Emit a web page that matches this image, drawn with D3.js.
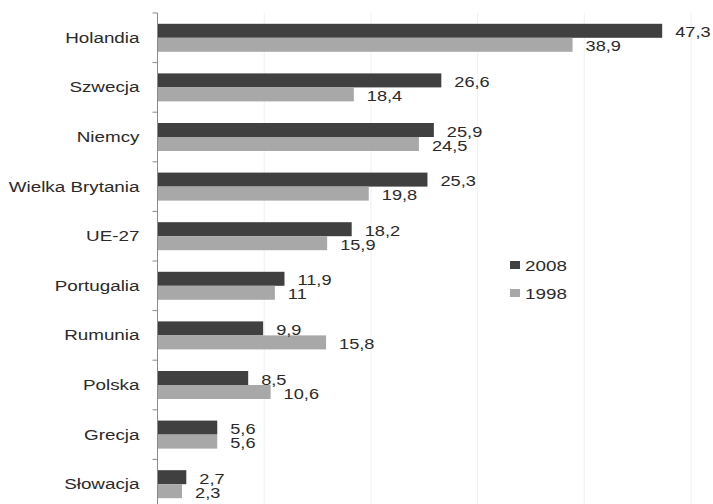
<!DOCTYPE html>
<html>
<head>
<meta charset="utf-8">
<script src="https://cdn.jsdelivr.net/npm/d3@7/dist/d3.min.js"></script>
<style>
  html, body { margin: 0; padding: 0; background: #fff; }
  svg { display: block; }
  text { font-family: "Liberation Sans", Arial, sans-serif; fill: #2a2a2a; }
</style>
</head>
<body>
<svg id="chart" width="713" height="504"></svg>
<script>
// Countries, top to bottom
const categories = ["Holandia", "Szwecja", "Niemcy", "Wielka Brytania", "UE-27",
                    "Portugalia", "Rumunia", "Polska", "Grecja", "Słowacja"];
// Values per year
const values2008 = [47.3, 26.6, 25.9, 25.3, 18.2, 11.9, 9.9, 8.5, 5.6, 2.7];
const values1998 = [38.9, 18.4, 24.5, 19.8, 15.9, 11, 15.8, 10.6, 5.6, 2.3];
const seriesNames = ["2008", "1998"];
const gridTicks = [10, 20, 30, 40, 50];

const colors = { "2008": "#404040", "1998": "#a8a8a8" };
const stretch = 1.3;          // horizontally wide lettering
const fmt = v => String(v).replace(".", ",");

const svg = d3.select("#chart");

const x = d3.scaleLinear().domain([0, 50]).range([157.5, 691]);
const y = d3.scaleBand().domain(categories).range([13, 509]).padding(0);
const inner = d3.scaleBand().domain(seriesNames)
  .range([y.bandwidth() / 2 - 14, y.bandwidth() / 2 + 14]).padding(0);

const data = categories.map((c, i) => ({
  cat: c,
  vals: [{ s: "2008", v: values2008[i] }, { s: "1998", v: values1998[i] }]
}));

// vertical gridlines
svg.append("g").selectAll("line").data(gridTicks).join("line")
  .attr("x1", d => x(d)).attr("x2", d => x(d))
  .attr("y1", y.range()[0]).attr("y2", y.range()[1])
  .attr("stroke", "#f0f0f0").attr("stroke-width", 1);

// bars
const groups = svg.append("g").selectAll("g").data(data).join("g")
  .attr("transform", d => `translate(0,${y(d.cat)})`);

groups.selectAll("rect").data(d => d.vals).join("rect")
  .attr("x", x(0))
  .attr("y", d => inner(d.s))
  .attr("width", d => x(d.v) - x(0))
  .attr("height", inner.bandwidth())
  .attr("fill", d => colors[d.s]);

// value labels
groups.selectAll("text").data(d => d.vals).join("text")
  .attr("transform", d => `translate(${x(d.v) + 13},${inner(d.s) + inner.bandwidth() / 2 + 6.5}) scale(${stretch},1)`)
  .attr("font-size", 14)
  .text(d => fmt(d.v));

// category axis: line, boundary ticks, labels
const axis = svg.append("g");
axis.append("line")
  .attr("x1", x(0)).attr("x2", x(0))
  .attr("y1", y.range()[0]).attr("y2", y.range()[1])
  .attr("stroke", "#8a8a8a");
axis.selectAll("line.tick").data(categories).join("line")
  .attr("class", "tick")
  .attr("x1", x(0) - 5).attr("x2", x(0))
  .attr("y1", d => y(d)).attr("y2", d => y(d))
  .attr("stroke", "#8a8a8a");
axis.selectAll("text").data(categories).join("text")
  .attr("transform", d => `translate(${x(0) - 18},${y(d) + y.bandwidth() / 2 + 5}) scale(${stretch},1)`)
  .attr("text-anchor", "end")
  .attr("font-size", 14.5)
  .text(d => d);

// legend
const legend = svg.append("g").attr("transform", "translate(510,261)");
const li = legend.selectAll("g").data(seriesNames).join("g")
  .attr("transform", (d, i) => `translate(0,${i * 28})`);
li.append("rect").attr("width", 10).attr("height", 8).attr("fill", d => colors[d]);
li.append("text")
  .attr("transform", `translate(15,9.5) scale(${stretch},1)`)
  .attr("font-size", 14.5)
  .text(d => d);
</script>
</body>
</html>
